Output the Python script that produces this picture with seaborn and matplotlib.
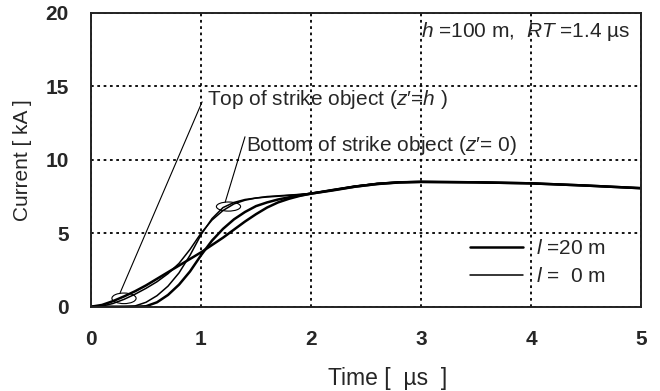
import matplotlib
matplotlib.use("Agg")
import matplotlib.pyplot as plt
from matplotlib.lines import Line2D
from matplotlib.patches import Ellipse
import pandas as pd
import seaborn as sns

# Time axis [µs]
time_us = [0.0, 0.1, 0.2, 0.3, 0.4, 0.5, 0.6, 0.7, 0.8, 0.9, 1.0,
           1.1, 1.2, 1.3, 1.4, 1.5, 1.6, 1.7, 1.8, 1.9, 2.0,
           2.2, 2.4, 2.6, 2.8, 3.0, 3.5, 4.0, 4.5, 5.0]

# Current [kA] at the top of the strike object (z' = h)
top_l20 = [0.0, 0.12, 0.38, 0.70, 1.05, 1.45, 1.90, 2.35, 2.80, 3.25, 3.70,
           4.20, 4.70, 5.25, 5.80, 6.30, 6.75, 7.10, 7.35, 7.55, 7.70,
           7.95, 8.18, 8.36, 8.47, 8.50, 8.47, 8.40, 8.25, 8.07]
top_l0 = [0.0, 0.04, 0.22, 0.50, 0.85, 1.25, 1.70, 2.25, 2.95, 3.90, 5.00,
          5.90, 6.55, 7.00, 7.25, 7.40, 7.50, 7.55, 7.60, 7.65, 7.72,
          7.93, 8.20, 8.40, 8.50, 8.52, 8.48, 8.41, 8.26, 8.08]

# Current [kA] at the bottom of the strike object (z' = 0)
bottom_l0 = [0.0, 0.0, 0.0, 0.0, 0.05, 0.30, 0.75, 1.40, 2.30, 3.50, 4.90,
             6.00, 6.75, 7.10, 7.30, 7.40, 7.47, 7.52, 7.58, 7.64, 7.72,
             7.97, 8.22, 8.38, 8.46, 8.49, 8.46, 8.40, 8.24, 8.06]
bottom_l20 = [0.0, 0.0, 0.0, 0.0, 0.0, 0.03, 0.30, 0.80, 1.50, 2.40, 3.50,
              4.50, 5.30, 5.95, 6.45, 6.85, 7.10, 7.30, 7.45, 7.58, 7.70,
              7.92, 8.17, 8.35, 8.46, 8.50, 8.47, 8.40, 8.25, 8.07]

x_ticks = [0, 1, 2, 3, 4, 5]
y_ticks = [0, 5, 10, 15, 20]

sns.set_style("white")
plt.rcParams["font.family"] = ["Liberation Sans", "DejaVu Sans"]
plt.rcParams["mathtext.fontset"] = "custom"
plt.rcParams["mathtext.rm"] = "Liberation Sans"
plt.rcParams["mathtext.it"] = "Liberation Sans:italic"

FS = 15
LW_THICK, LW_THIN = 1.8, 1.1

fig = plt.figure(figsize=(6.6, 3.91), dpi=100)
ax = fig.add_axes([91 / 660, 1 - 306.7 / 391, 550 / 660, 293.7 / 391])

curves = [
    (top_l0, LW_THIN), (bottom_l0, LW_THIN),
    (top_l20, LW_THICK), (bottom_l20, LW_THICK),
]
for values, lw in curves:
    df = pd.DataFrame({"t": time_us, "i": values})
    sns.lineplot(data=df, x="t", y="i", ax=ax, color="black",
                 linewidth=lw, legend=False, sort=False)

ax.set_xlim(0, 5)
ax.set_ylim(0, 20)
ax.set_xticks(x_ticks)
ax.set_yticks(y_ticks)
ax.tick_params(axis="both", length=0, labelsize=FS)
ax.tick_params(axis="x", pad=17)
ax.tick_params(axis="y", pad=16)
for lab in ax.get_xticklabels() + ax.get_yticklabels():
    lab.set_fontweight("bold")

ax.grid(True, color="black", linestyle=(0, (1.5, 2.0)), linewidth=1.3)
for s in ax.spines.values():
    s.set_color("#222222")
    s.set_linewidth(1.4)

ax.set_xlabel("Time [  µs  ]", fontsize=16.5)
ax.set_ylabel("Current [ kA ]", fontsize=FS)
ax.xaxis.set_label_coords(0.54, -0.205)
ax.yaxis.set_label_coords(-0.108, 0.5)

# Parameter note
ax.text(4.9, 18.73, r"$\it{h}$ =100 m,  $\it{RT}$ =1.4 µs", fontsize=FS,
        ha="right", va="center")

# Annotations with ellipses marking the curve pairs
ax.add_patch(Ellipse((0.30, 0.57), 0.22, 0.72, fill=False,
                     edgecolor="black", linewidth=0.8))
ax.add_patch(Ellipse((1.25, 6.82), 0.22, 0.62, fill=False,
                     edgecolor="black", linewidth=0.8))
ax.plot([1.01, 0.265], [13.95, 0.95], color="black", linewidth=0.8)
ax.plot([1.40, 1.22], [11.57, 7.12], color="black", linewidth=0.8)
ax.text(1.055, 14.09, r"Top of strike object ($\it{z}$′=$\it{h}$ )",
        fontsize=FS, ha="left", va="center")
ax.text(1.41, 11.0, r"Bottom of strike object ($\it{z}$′= 0)",
        fontsize=FS, ha="left", va="center")

handles = [Line2D([], [], color="black", linewidth=LW_THICK),
           Line2D([], [], color="black", linewidth=LW_THIN)]
labels = [r"$\it{l}$ =20 m", r"$\it{l}$ =  0 m"]
ax.legend(handles, labels, loc="upper left",
          bbox_to_anchor=((470 - 91) / 550, (306.7 - 239) / 293.7),
          frameon=False, fontsize=FS, handlelength=2.55, handletextpad=0.62,
          labelspacing=0.45, borderpad=0, borderaxespad=0)

fig.savefig("out.png", dpi=100)
